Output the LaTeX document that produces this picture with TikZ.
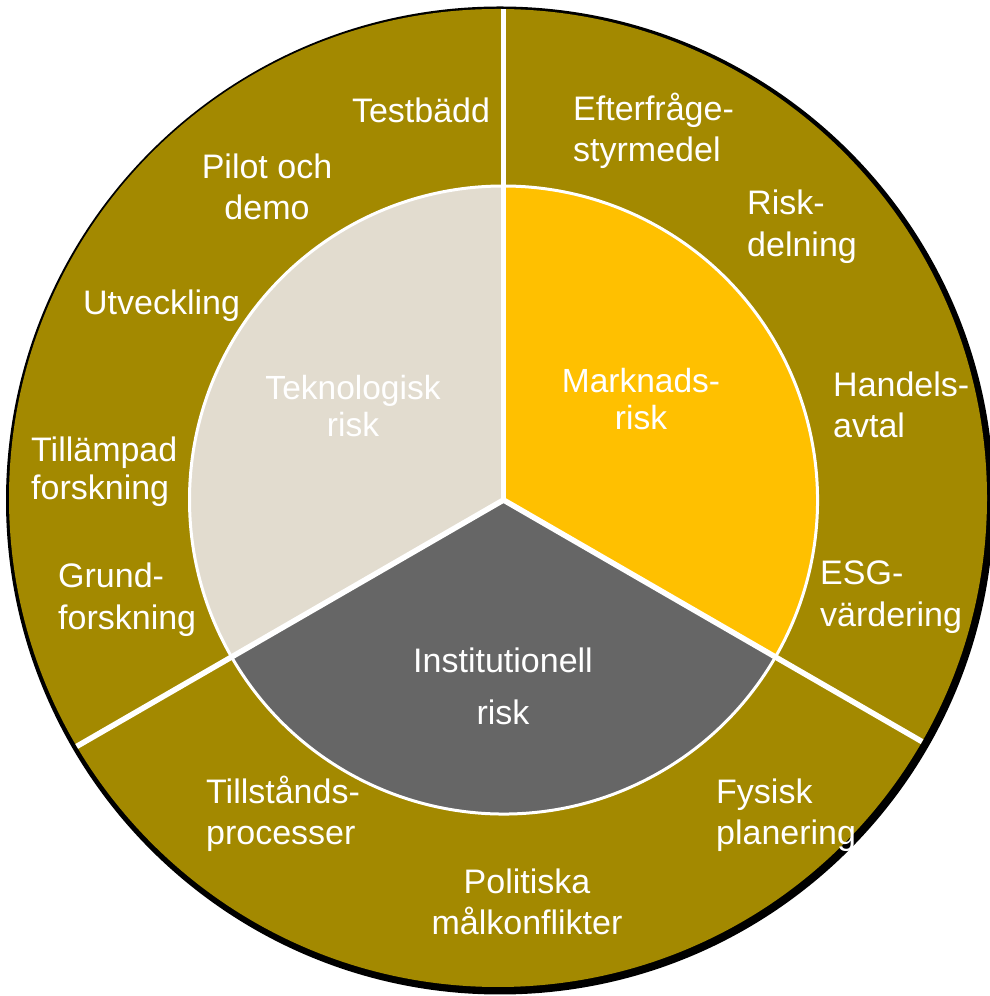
\documentclass[tikz,border=0pt]{standalone}
\usepackage{fontspec}
\setmainfont{Liberation Sans}
\usetikzlibrary{calc}
\definecolor{ringgold}{HTML}{A38900}
\definecolor{techbeige}{HTML}{E2DCCF}
\definecolor{marketyellow}{HTML}{FFC000}
\definecolor{instgray}{HTML}{666666}
\tikzset{
  wedge/.style={draw=white, line width=3pt},
  divider/.style={draw=white, line width=5.5pt},
  outerlbl/.style={text=white, inner sep=0pt, align=left, anchor=base west,
    font=\fontsize{34}{41}\selectfont},
  outerclbl/.style={text=white, inner sep=0pt, align=center, anchor=base,
    font=\fontsize{34}{41}\selectfont},
  innerlbl/.style={text=white, inner sep=0pt, align=center, anchor=base,
    font=\fontsize{33.5}{37}\selectfont},
}
\begin{document}
\begin{tikzpicture}[x=1pt,y=1pt]
\useasboundingbox (0,0) rectangle (990,996);
% outer ring with shadow
\fill[black] (500,495.5) circle (494);
\fill[ringgold] (498,498) circle (489);
\coordinate (hub) at (503.5,496);
% inner wedges
\filldraw[wedge, fill=techbeige] (hub) -- ++(90:314) arc[start angle=90, end angle=210, radius=314] -- cycle;
\filldraw[wedge, fill=marketyellow] (hub) -- ++(-30:314) arc[start angle=-30, end angle=90, radius=314] -- cycle;
\filldraw[wedge, fill=instgray] (hub) -- ++(210:314) arc[start angle=210, end angle=330, radius=314] -- cycle;
% dividers
\begin{scope}
\clip (498,498) circle (489);
\coordinate (dtop) at ($(hub)+(90:560)$);
\coordinate (dleft) at ($(hub)+(210:560)$);
\coordinate (dright) at ($(hub)+(330:560)$);
\draw[divider] (hub) -- (dtop);
\draw[divider] (hub) -- (dleft);
\draw[divider] (hub) -- (dright);
\end{scope}
% inner labels (base = last line)
\node[innerlbl] (tek) at (353,559) {Teknologisk\\risk};
\node[innerlbl] (mark) at (641,566) {Marknads-\\risk};
\node[innerlbl, font=\fontsize{34}{52}\selectfont] (inst) at (503,271) {Institutionell\\risk};
% outer labels
\node[outerclbl] (testb) at (421,873) {Testbädd};
\node[outerclbl] (pilot) at (267,776) {Pilot och\\demo};
\node[outerlbl] (utv) at (83,681) {Utveckling};
\node[outerlbl, font=\fontsize{34}{38}\selectfont] (tillamp) at (31,496) {Tillämpad\\forskning};
\node[outerlbl, font=\fontsize{34}{42}\selectfont] (grund) at (58,366) {Grund-\\forskning};
\node[outerlbl] (efter) at (573,834) {Efterfråge-\\styrmedel};
\node[outerlbl, font=\fontsize{34}{42}\selectfont] (riskd) at (747,739) {Risk-\\delning};
\node[outerlbl] (handel) at (833,558) {Handels-\\avtal};
\node[outerlbl, font=\fontsize{34}{42}\selectfont] (esg) at (820,369) {ESG-\\värdering};
\node[outerlbl] (fysisk) at (716,151) {Fysisk\\planering};
\node[outerlbl] (tillst) at (206,151) {Tillstånds-\\processer};
\node[outerclbl] (polit) at (527,61) {Politiska\\målkonflikter};
\end{tikzpicture}
\end{document}
